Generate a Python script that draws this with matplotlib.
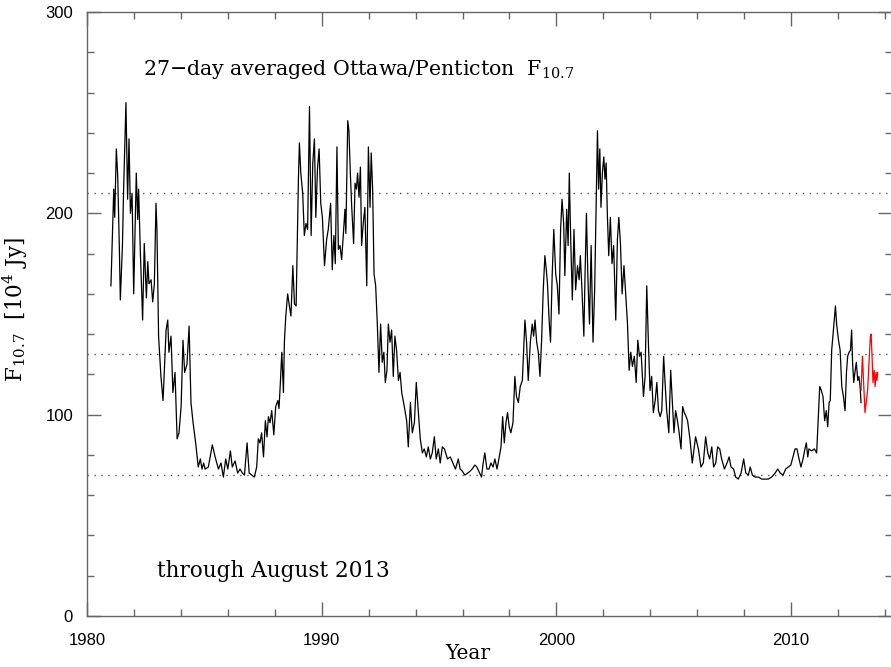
import matplotlib
matplotlib.use("Agg")
import matplotlib.pyplot as plt
from matplotlib.ticker import MultipleLocator

plt.rcParams["mathtext.default"] = "regular"

# 27-day averaged F10.7 flux (10^4 Jy), decimal year
year = [
    1981.02, 1981.14, 1981.18, 1981.25, 1981.31, 1981.38, 1981.42, 1981.51, 1981.56, 1981.66,
    1981.73, 1981.79, 1981.85, 1981.92, 1981.99, 1982.06, 1982.10, 1982.16, 1982.20, 1982.27,
    1982.37, 1982.44, 1982.53, 1982.59, 1982.64, 1982.73, 1982.80, 1982.87, 1982.94, 1982.98,
    1983.05, 1983.15, 1983.24, 1983.37, 1983.44, 1983.49, 1983.58, 1983.66, 1983.75, 1983.84,
    1983.92, 1984.01, 1984.09, 1984.16, 1984.26, 1984.35, 1984.43, 1984.52, 1984.63, 1984.74,
    1984.83, 1984.90, 1984.97, 1985.03, 1985.17, 1985.34, 1985.46, 1985.60, 1985.71, 1985.81,
    1985.91, 1986.00, 1986.11, 1986.19, 1986.31, 1986.42, 1986.52, 1986.62, 1986.71, 1986.82,
    1986.91, 1987.02, 1987.13, 1987.23, 1987.30, 1987.37, 1987.44, 1987.52, 1987.60, 1987.67,
    1987.73, 1987.80, 1987.87, 1987.96, 1988.04, 1988.13, 1988.18, 1988.24, 1988.30, 1988.37,
    1988.41, 1988.47, 1988.55, 1988.61, 1988.69, 1988.77, 1988.84, 1988.91, 1988.96, 1989.01,
    1989.05, 1989.11, 1989.19, 1989.26, 1989.33, 1989.40, 1989.48, 1989.55, 1989.62, 1989.69,
    1989.75, 1989.82, 1989.89, 1989.96, 1990.03, 1990.12, 1990.21, 1990.28, 1990.38, 1990.45,
    1990.52, 1990.58, 1990.65, 1990.71, 1990.78, 1990.85, 1990.92, 1990.99, 1991.03, 1991.11,
    1991.16, 1991.22, 1991.28, 1991.36, 1991.42, 1991.48, 1991.53, 1991.59, 1991.65, 1991.70,
    1991.77, 1991.84, 1991.92, 1991.99, 1992.06, 1992.11, 1992.17, 1992.23, 1992.30, 1992.37,
    1992.44, 1992.51, 1992.58, 1992.65, 1992.71, 1992.78, 1992.84, 1992.91, 1992.98, 1993.05,
    1993.12, 1993.19, 1993.27, 1993.34, 1993.41, 1993.52, 1993.62, 1993.69, 1993.78, 1993.86,
    1993.95, 1994.03, 1994.12, 1994.20, 1994.29, 1994.37, 1994.46, 1994.54, 1994.63, 1994.71,
    1994.80, 1994.88, 1994.97, 1995.05, 1995.14, 1995.23, 1995.36, 1995.48, 1995.59, 1995.70,
    1995.82, 1995.90, 1995.99, 1996.10, 1996.22, 1996.33, 1996.41, 1996.53, 1996.61, 1996.73,
    1996.81, 1996.88, 1996.95, 1997.04, 1997.13, 1997.21, 1997.30, 1997.38, 1997.47, 1997.55,
    1997.64, 1997.71, 1997.78, 1997.85, 1997.92, 1997.99, 1998.06, 1998.15, 1998.23, 1998.30,
    1998.38, 1998.46, 1998.55, 1998.60, 1998.66, 1998.73, 1998.80, 1998.89, 1998.97, 1999.03,
    1999.09, 1999.16, 1999.23, 1999.30, 1999.37, 1999.44, 1999.51, 1999.57, 1999.62, 1999.69,
    1999.75, 1999.82, 1999.89, 1999.97, 2000.04, 2000.11, 2000.18, 2000.24, 2000.31, 2000.36,
    2000.44, 2000.50, 2000.55, 2000.61, 2000.68, 2000.75, 2000.82, 2000.90, 2000.97, 2001.02,
    2001.09, 2001.17, 2001.22, 2001.28, 2001.34, 2001.41, 2001.48, 2001.56, 2001.63, 2001.69,
    2001.75, 2001.80, 2001.85, 2001.90, 2001.96, 2002.02, 2002.07, 2002.12, 2002.17, 2002.23,
    2002.30, 2002.37, 2002.44, 2002.53, 2002.60, 2002.66, 2002.73, 2002.80, 2002.88, 2002.96,
    2003.03, 2003.10, 2003.17, 2003.24, 2003.32, 2003.40, 2003.47, 2003.54, 2003.61, 2003.71,
    2003.78, 2003.85, 2003.92, 2003.99, 2004.06, 2004.13, 2004.21, 2004.28, 2004.35, 2004.42,
    2004.49, 2004.57, 2004.63, 2004.70, 2004.79, 2004.87, 2004.94, 2005.01, 2005.08, 2005.16,
    2005.23, 2005.31, 2005.38, 2005.45, 2005.53, 2005.59, 2005.69, 2005.79, 2005.93, 2006.05,
    2006.16, 2006.26, 2006.36, 2006.45, 2006.53, 2006.62, 2006.70, 2006.79, 2006.87, 2006.96,
    2007.04, 2007.16, 2007.27, 2007.36, 2007.44, 2007.55, 2007.64, 2007.75, 2007.87, 2007.98,
    2008.07, 2008.18, 2008.26, 2008.35, 2008.46, 2008.61, 2008.75, 2008.89, 2009.03, 2009.17,
    2009.32, 2009.43, 2009.54, 2009.66, 2009.77, 2009.88, 2009.99, 2010.08, 2010.17, 2010.25,
    2010.34, 2010.42, 2010.51, 2010.59, 2010.65, 2010.71, 2010.76, 2010.88, 2010.99, 2011.09,
    2011.16, 2011.22, 2011.29, 2011.36, 2011.43, 2011.50, 2011.56, 2011.62, 2011.67, 2011.73,
    2011.79, 2011.84, 2011.89, 2011.94, 2012.02, 2012.09, 2012.16, 2012.23, 2012.30, 2012.36,
    2012.41, 2012.47, 2012.53, 2012.58, 2012.62, 2012.67, 2012.72, 2012.78, 2012.84, 2012.89,
    2012.94, 2012.98,
]
flux = [
    164, 212, 198, 232, 218, 182, 157, 184, 212, 255,
    207, 237, 200, 210, 160, 197, 220, 197, 212, 182,
    147, 185, 158, 176, 165, 167, 156, 165, 205, 192,
    139, 119, 107, 142, 147, 131, 139, 111, 121, 88,
    91, 104, 137, 121, 125, 144, 106, 96, 86, 74,
    78, 73, 76, 73, 74, 85, 79, 73, 76, 69,
    78, 73, 82, 74, 77, 71, 73, 71, 70, 86,
    71, 70, 69, 74, 88, 86, 91, 79, 97, 89,
    99, 96, 102, 90, 104, 107, 103, 116, 131, 111,
    136, 149, 160, 155, 149, 174, 155, 154, 187, 218,
    235, 220, 210, 189, 195, 192, 253, 189, 225, 237,
    198, 222, 232, 205, 198, 174, 187, 192, 205, 172,
    189, 175, 233, 182, 184, 177, 189, 202, 190, 246,
    241, 220, 203, 185, 215, 212, 220, 208, 223, 184,
    195, 203, 164, 233, 203, 230, 212, 170, 164, 145,
    121, 145, 126, 131, 116, 122, 145, 136, 142, 119,
    139, 132, 117, 121, 111, 104, 97, 84, 106, 91,
    96, 116, 101, 88, 81, 83, 79, 84, 78, 81,
    89, 78, 83, 76, 84, 83, 78, 79, 76, 73,
    78, 73, 72, 70, 71, 72, 73, 75, 74, 71,
    69, 76, 81, 73, 73, 76, 74, 78, 73, 78,
    84, 99, 86, 96, 101, 94, 91, 96, 119, 109,
    106, 114, 117, 131, 147, 136, 117, 136, 145, 139,
    147, 136, 131, 119, 137, 162, 179, 172, 165, 147,
    136, 169, 192, 170, 164, 150, 192, 207, 195, 169,
    202, 184, 220, 187, 157, 192, 162, 174, 167, 179,
    162, 139, 169, 200, 169, 145, 184, 136, 162, 203,
    241, 212, 232, 203, 220, 228, 217, 225, 200, 179,
    198, 175, 184, 147, 187, 198, 185, 160, 174, 159,
    145, 122, 131, 124, 129, 116, 137, 129, 131, 109,
    119, 164, 136, 112, 119, 101, 107, 116, 102, 99,
    102, 129, 116, 102, 91, 122, 106, 91, 102, 97,
    91, 83, 104, 101, 99, 97, 88, 76, 89, 83,
    74, 76, 89, 81, 78, 84, 74, 76, 84, 83,
    78, 73, 76, 79, 74, 73, 69, 68, 71, 78,
    71, 70, 74, 70, 69, 69, 68, 68, 68, 69,
    71, 73, 71, 70, 73, 74, 75, 79, 83, 83,
    78, 74, 78, 83, 86, 79, 83, 82, 83, 81,
    99, 114, 112, 109, 97, 102, 94, 106, 107, 132,
    140, 147, 154, 145, 137, 132, 114, 109, 102, 121,
    129, 131, 132, 142, 126, 116, 121, 126, 117, 119,
    114, 106,
]

# provisional values for 2013
year_2013 = [
    2012.98, 2013.04, 2013.09, 2013.15, 2013.21, 2013.26, 2013.32, 2013.38, 2013.41, 2013.45,
    2013.49, 2013.54, 2013.58, 2013.62, 2013.66, 2013.69,
]
flux_2013 = [
    112, 129, 116, 101, 107, 112, 126, 139, 140, 129,
    116, 122, 114, 121, 117, 121,
]

ref_levels = [70, 130, 210]

fig = plt.figure(figsize=(8.91, 6.67), dpi=100)
ax = fig.add_axes([87 / 891, 51 / 667, 805 / 891, 604 / 667])

for lev in ref_levels:
    ax.axhline(lev, color="#555555", lw=1.0, ls=(0, (1, 4)), zorder=1)

ax.plot(year, flux, color="black", lw=0.9, zorder=2)
ax.plot(year_2013, flux_2013, color="red", lw=0.9, zorder=3)

ax.set_xlim(1980, 2014.3)
ax.set_ylim(0, 300)
ax.xaxis.set_major_locator(MultipleLocator(10))
ax.xaxis.set_minor_locator(MultipleLocator(2))
ax.yaxis.set_major_locator(MultipleLocator(100))
ax.yaxis.set_minor_locator(MultipleLocator(20))

for side in ax.spines.values():
    side.set_color("#666666")
    side.set_linewidth(1.0)
ax.tick_params(which="both", direction="in", top=True, right=True, color="#666666")
ax.tick_params(which="major", length=10, width=1.0)
ax.tick_params(which="minor", length=5, width=1.0)
ax.tick_params(axis="x", which="major", pad=12)
ax.tick_params(axis="y", which="major", pad=10)
for lab in ax.get_xticklabels() + ax.get_yticklabels():
    lab.set_fontfamily("Liberation Sans")
    lab.set_fontsize(12)

serif = "DejaVu Serif"
ax.set_xlabel("Year", family=serif, fontsize=14.5)
ax.xaxis.set_label_coords(0.473, -0.047)
ax.set_ylabel("F$_{10.7}$  [10$^{4}$ Jy]", family=serif, fontsize=15.5)
ax.yaxis.set_label_coords(-0.071, 0.507)

ax.text(0.0696, 0.896, "27\u2212day averaged Ottawa/Penticton  F$_{10.7}$",
        transform=ax.transAxes, family=serif, fontsize=14.8, va="baseline")
ax.text(0.087, 0.0646, "through August 2013",
        transform=ax.transAxes, family=serif, fontsize=15.5, va="baseline")

fig.savefig("out.png", dpi=100)
